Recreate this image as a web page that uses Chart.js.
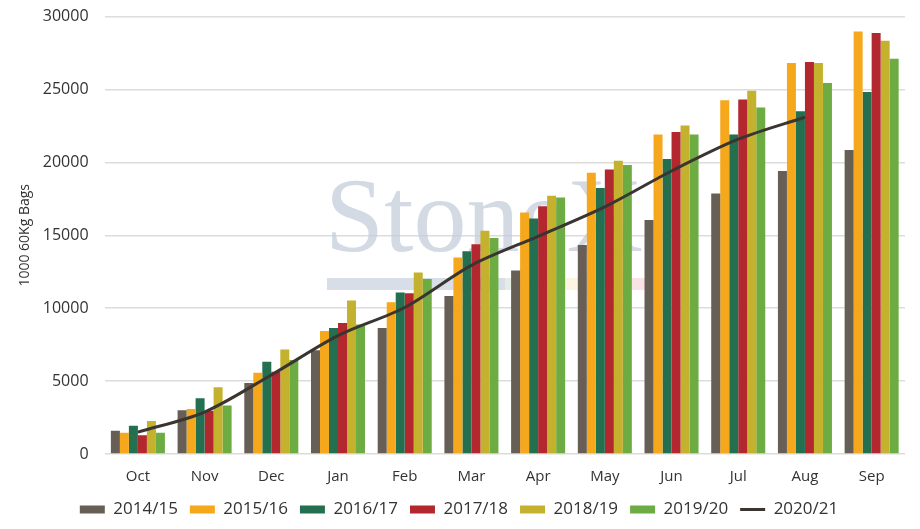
<!DOCTYPE html>
<html>
<head>
<meta charset="utf-8">
<script src="https://cdn.jsdelivr.net/npm/chart.js@4"></script>
<style>
html,body{margin:0;padding:0;background:#fff;}
#wrap{width:920px;height:529px;}
</style>
</head>
<body>
<div id="wrap"><canvas id="c" width="920" height="529"></canvas></div>
<script>
const categories = ['Oct','Nov','Dec','Jan','Feb','Mar','Apr','May','Jun','Jul','Aug','Sep'];
const s2014 = [1600, 3000, 4870, 7110, 8650, 10830, 12590, 14340, 16050, 17870, 19410, 20850];
const s2015 = [1450, 3080, 5580, 8440, 10410, 13470, 16560, 19290, 21910, 24270, 26820, 28970];
const s2016 = [1930, 3830, 6330, 8650, 11080, 13900, 16150, 18240, 20230, 21910, 23510, 24820];
const s2017 = [1290, 2960, 5640, 8990, 11030, 14380, 17000, 19520, 22090, 24320, 26880, 28880];
const s2018 = [2270, 4570, 7160, 10530, 12450, 15320, 17710, 20120, 22530, 24910, 26820, 28350];
const s2019 = [1450, 3330, 6450, 8880, 12000, 14820, 17600, 19820, 21910, 23760, 25440, 27110];
const s2020 = [1500, 2880, 5420, 8120, 10050, 12940, 14930, 16950, 19410, 21590, 23100, null];
const yTicks = [0, 5000, 10000, 15000, 20000, 25000, 30000];

const FONT = "'Open Sans', 'DejaVu Sans', sans-serif";

const watermark = {
  id: 'watermark',
  beforeDatasetsDraw(chart) {
    const ctx = chart.ctx;
    ctx.save();
    ctx.fillStyle = 'rgba(196,205,217,0.75)';
    ctx.font = "106px 'Liberation Serif', 'DejaVu Serif', serif";
    ctx.textBaseline = 'alphabetic';
    ctx.fillText('StoneX', 325, 251);
    const segs = [[327,505,'rgba(205,214,226,0.8)'],[505,548,'rgba(205,222,205,0.55)'],[548,598,'rgba(248,236,200,0.55)'],[598,645,'rgba(242,205,205,0.55)']];
    segs.forEach(s => { ctx.fillStyle = s[2]; ctx.fillRect(s[0], 278, s[1]-s[0], 12); });
    ctx.restore();
  }
};

function bar(label, data, color) {
  return { type: 'bar', label, data, backgroundColor: color, borderColor: color, borderWidth: 0, order: 1, pointStyle: 'rect' };
}

new Chart(document.getElementById('c'), {
  data: {
    labels: categories,
    datasets: [
      bar('2014/15', s2014, '#675E55'),
      bar('2015/16', s2015, '#F5A81C'),
      bar('2016/17', s2016, '#236F4F'),
      bar('2017/18', s2017, '#B3272F'),
      bar('2018/19', s2018, '#C4B22E'),
      bar('2019/20', s2019, '#6DAC43'),
      { type: 'line', label: '2020/21', data: s2020, borderColor: '#3A3530', backgroundColor: '#3A3530', borderWidth: 3, pointRadius: 0, tension: 0.3, order: 0, pointStyle: 'line', spanGaps: false }
    ]
  },
  options: {
    responsive: false,
    animation: false,
    layout: { padding: { top: 0, right: 15, left: 13, bottom: 1 } },
    datasets: { bar: { categoryPercentage: 0.81, barPercentage: 1.0 } },
    scales: {
      x: {
        grid: { display: true, drawOnChartArea: false, drawTicks: true, tickLength: 11, tickColor: 'rgba(0,0,0,0)' },
        border: { display: false },
        ticks: { color: '#333', font: { family: FONT, size: 15 }, padding: 3 }
      },
      y: {
        min: 0, max: 30000,
        afterBuildTicks(axis) { axis.ticks = yTicks.map(v => ({ value: v })); },
        grid: { color: '#dcdcdc', lineWidth: 1.5, drawTicks: true, tickLength: 9, tickColor: 'rgba(0,0,0,0)' },
        border: { display: false },
        ticks: { color: '#333', font: { family: FONT, size: 16 }, padding: 7, callback: v => String(v) },
        title: { display: true, text: '1000 60Kg Bags', color: '#333', font: { family: FONT, size: 14 }, padding: { bottom: 2 } }
      }
    },
    plugins: {
      legend: {
        position: 'bottom',
        labels: {
          usePointStyle: true, pointStyleWidth: 25, boxHeight: 8,
          color: '#333', font: { family: FONT, size: 17 }, padding: 12,
          sort: (a, b) => a.datasetIndex - b.datasetIndex
        }
      },
      tooltip: { enabled: false }
    }
  },
  plugins: [watermark]
});
</script>
</body>
</html>
